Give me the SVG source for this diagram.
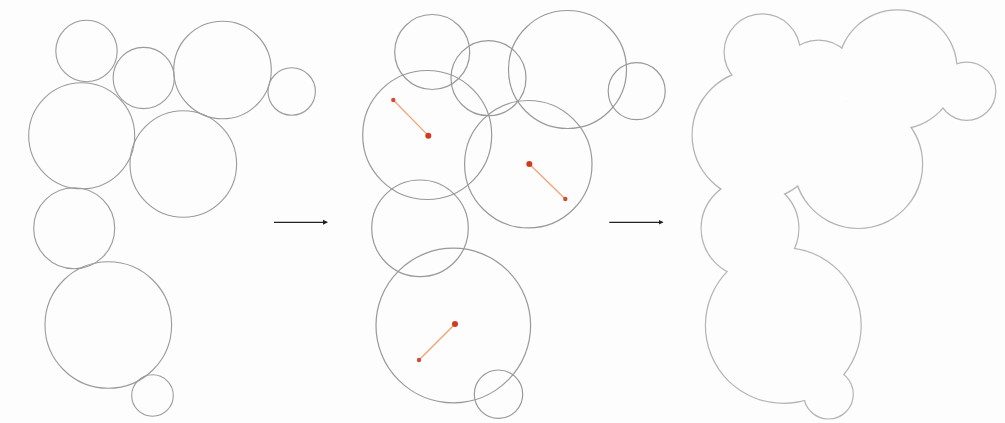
<svg xmlns="http://www.w3.org/2000/svg" width="1005" height="423" viewBox="0 0 1005 423">
<style>
.c1{fill:none;stroke:#9a9a9a;stroke-width:1.1}
.c2{fill:none;stroke:#999;stroke-width:1.2}
.u{fill:none;stroke:#b4b4b4;stroke-width:2.4}
.uf{fill:#fdfdfd;stroke:none}
.seg{stroke:#f2a070;stroke-width:1.2}
.big{fill:#d23a1e}
.small{fill:#d24a3a}
.arr{stroke:#222;stroke-width:1.2;marker-end:url(#ah)}
</style>
<defs>
<marker id="ah" markerWidth="6" markerHeight="6" refX="4" refY="3" orient="auto" markerUnits="userSpaceOnUse">
<path d="M0,0.5 L5,3 L0,5.5 z" fill="#222"/>
</marker>
</defs>
<rect width="1005" height="423" fill="#fdfdfd"/>
<g id="panel1">
<circle class="c1" cx="86.5" cy="51" r="30.7"/>
<circle class="c1" cx="143.7" cy="78" r="30.6"/>
<circle class="c1" cx="222.5" cy="70" r="48.8"/>
<circle class="c1" cx="291.7" cy="91.5" r="23.7"/>
<circle class="c1" cx="81.7" cy="135.8" r="53"/>
<circle class="c1" cx="183.3" cy="164" r="53.3"/>
<circle class="c1" cx="74.2" cy="228.3" r="40.5"/>
<circle class="c1" cx="108.3" cy="325" r="63.3"/>
<circle class="c1" cx="152.5" cy="395.5" r="20.8"/>
</g>
<g id="panel2">
<circle class="c2" cx="432.2" cy="52" r="37.5"/>
<circle class="c2" cx="488.5" cy="78.2" r="37.5"/>
<circle class="c2" cx="567.5" cy="69.5" r="59"/>
<circle class="c2" cx="636.7" cy="91.2" r="28.5"/>
<circle class="c2" cx="427.2" cy="135" r="64.5"/>
<circle class="c2" cx="528.3" cy="164.2" r="63.7"/>
<circle class="c2" cx="420" cy="228.3" r="48.3"/>
<circle class="c2" cx="453.3" cy="325.5" r="77.3"/>
<circle class="c2" cx="498.5" cy="394.2" r="24.2"/>
<g id="offsets">
<line class="seg" x1="393.3" y1="100" x2="428.3" y2="135.7"/>
<circle class="small" cx="393.3" cy="100" r="2.2"/>
<circle class="big" cx="428.3" cy="135.7" r="3"/>
<line class="seg" x1="529.3" y1="164" x2="565.3" y2="199"/>
<circle class="big" cx="529.3" cy="164" r="3"/>
<circle class="small" cx="565.3" cy="199" r="2.2"/>
<line class="seg" x1="455" y1="324" x2="419" y2="360"/>
<circle class="big" cx="455" cy="324" r="3"/>
<circle class="small" cx="419" cy="360" r="2.2"/>
</g>
</g>
<g id="panel3">
<g id="union-stroke">
<circle class="u" cx="762.2" cy="52" r="37.5"/>
<circle class="u" cx="818.5" cy="78.2" r="37.5"/>
<circle class="u" cx="897.5" cy="69.5" r="59"/>
<circle class="u" cx="966.7" cy="91.2" r="28.5"/>
<circle class="u" cx="757.2" cy="135" r="64.5"/>
<circle class="u" cx="858.3" cy="164.2" r="63.7"/>
<circle class="u" cx="750" cy="228.3" r="48.3"/>
<circle class="u" cx="783.3" cy="325.5" r="77.3"/>
<circle class="u" cx="828.5" cy="394.2" r="24.2"/>
</g>
<g id="union-fill">
<circle class="uf" cx="762.2" cy="52" r="37.5"/>
<circle class="uf" cx="818.5" cy="78.2" r="37.5"/>
<circle class="uf" cx="897.5" cy="69.5" r="59"/>
<circle class="uf" cx="966.7" cy="91.2" r="28.5"/>
<circle class="uf" cx="757.2" cy="135" r="64.5"/>
<circle class="uf" cx="858.3" cy="164.2" r="63.7"/>
<circle class="uf" cx="750" cy="228.3" r="48.3"/>
<circle class="uf" cx="783.3" cy="325.5" r="77.3"/>
<circle class="uf" cx="828.5" cy="394.2" r="24.2"/>
</g>
</g>
<g id="connectors">
<line class="arr" x1="274" y1="222.3" x2="327" y2="222.3"/>
<line class="arr" x1="609.3" y1="222.3" x2="662.5" y2="222.3"/>
</g>
</svg>
